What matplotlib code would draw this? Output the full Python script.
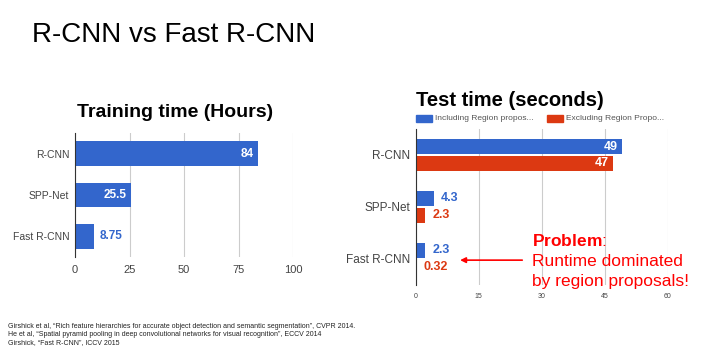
import matplotlib
matplotlib.use('Agg')
import matplotlib.pyplot as plt
import numpy as np
from matplotlib.patches import Rectangle

plt.rcParams['font.family'] = ['Liberation Sans', 'DejaVu Sans']
plt.rcParams['mathtext.fontset'] = 'custom'
plt.rcParams['mathtext.rm'] = 'Liberation Sans'
plt.rcParams['mathtext.bf'] = 'Liberation Sans:bold'

# Data
train_models = ['R-CNN', 'SPP-Net', 'Fast R-CNN']
train_hours = [84, 25.5, 8.75]
train_labels = ['84', '25.5', '8.75']
train_ticks = [0, 25, 50, 75, 100]

test_models = ['R-CNN', 'SPP-Net', 'Fast R-CNN']
test_incl = [49, 4.3, 2.3]
test_excl = [47, 2.3, 0.32]
test_incl_labels = ['49', '4.3', '2.3']
test_excl_labels = ['47', '2.3', '0.32']
test_ticks = [0, 15, 30, 45, 60]
series_names = ['Including Region propos...', 'Excluding Region Propo...']

references = [
    'Girshick et al, \u201cRich feature hierarchies for accurate object detection and semantic segmentation\u201d, CVPR 2014.',
    'He et al, \u201cSpatial pyramid pooling in deep convolutional networks for visual recognition\u201d, ECCV 2014',
    'Girshick, \u201cFast R-CNN\u201d, ICCV 2015',
]

BLUE = '#3366cc'
RED = '#dc3912'
GRID = '#cccccc'
TXT = '#444444'

fig = plt.figure(figsize=(7.08, 3.58), dpi=100)
W, H = 708, 358


def px_axes(x0, y0, x1, y1):
    return fig.add_axes([x0 / W, 1 - y1 / H, (x1 - x0) / W, (y1 - y0) / H])


def style(ax, ticks, tick_size, cat_size):
    ax.set_xticks(ticks)
    ax.grid(axis='x', color=GRID, lw=0.8)
    ax.set_axisbelow(True)
    for s in ['top', 'right', 'bottom']:
        ax.spines[s].set_visible(False)
    ax.spines['left'].set_color('#333333')
    ax.spines['left'].set_linewidth(0.8)
    ax.tick_params(axis='both', length=0, colors=TXT)
    ax.tick_params(axis='x', labelsize=tick_size, pad=6)
    ax.tick_params(axis='y', labelsize=cat_size, pad=4)


# --- Training time
ax1 = px_axes(75, 133, 293, 257)
y1 = np.arange(len(train_models))
ax1.barh(y1, train_hours, height=0.6, color=BLUE, zorder=2)
ax1.set_xlim(0, 100)
ax1.set_ylim(len(train_models) - 0.5, -0.5)
ax1.set_yticks(y1)
ax1.set_yticklabels(train_models)
style(ax1, train_ticks, 8, 7.5)
for yi, v, lab in zip(y1, train_hours, train_labels):
    if v > 20:
        ax1.annotate(lab, (v, yi), xytext=(-3, 0), textcoords='offset points',
                     ha='right', va='center', color='white', fontsize=8.5, fontweight='bold')
    else:
        ax1.annotate(lab, (v, yi), xytext=(4, 0), textcoords='offset points',
                     ha='left', va='center', color=BLUE, fontsize=8.5, fontweight='bold')
fig.text(175 / W, 1 - 113 / H, 'Training time (Hours)', ha='center', va='center',
         fontsize=14, fontweight='bold')

# --- Test time
ax2 = px_axes(415.7, 129, 668, 284.5)
y2 = np.arange(len(test_models))
bh = 0.29
off = bh / 2 + 0.015
ax2.barh(y2 - off, test_incl, height=bh, color=BLUE, zorder=2)
ax2.barh(y2 + off, test_excl, height=bh, color=RED, zorder=2)
ax2.set_xlim(0, 60)
ax2.set_ylim(len(test_models) - 0.5, -0.5)
ax2.set_yticks(y2)
ax2.set_yticklabels(test_models)
style(ax2, test_ticks, 5, 8.5)
for vals, labs, col, d in [(test_incl, test_incl_labels, BLUE, -off),
                           (test_excl, test_excl_labels, RED, off)]:
    for yi, v, lab in zip(y2, vals, labs):
        if v > 20:
            ax2.annotate(lab, (v, yi + d), xytext=(-3, 0), textcoords='offset points',
                         ha='right', va='center', color='white', fontsize=9, fontweight='bold')
        else:
            ax2.annotate(lab, (v, yi + d), xytext=(5, 0), textcoords='offset points',
                         ha='left', va='center', color=col, fontsize=9, fontweight='bold')
fig.text(416 / W, 1 - 100 / H, 'Test time (seconds)', ha='left', va='center',
         fontsize=14.5, fontweight='bold')

# legend
for (x0, name, col) in [(415.7, series_names[0], BLUE), (546.7, series_names[1], RED)]:
    fig.patches.append(Rectangle((x0 / W, 1 - 121.7 / H), 16 / W, 6.7 / H,
                                 transform=fig.transFigure, color=col))
    fig.text((x0 + 19.5) / W, 1 - 118.5 / H, name, ha='left', va='center',
             fontsize=6, color='#555555')

# annotation
ax2.annotate('', xy=(9.9, 2.03), xytext=(26, 2.03),
             arrowprops=dict(arrowstyle='-|>', color='red', lw=1.2, mutation_scale=8),
             annotation_clip=False)
fig.text(531.7 / W, 1 - 241.5 / H, r'$\mathbf{Problem}$:', ha='left', va='center',
         fontsize=12.5, color='red')
fig.text(531.7 / W, 1 - 261.5 / H, 'Runtime dominated', ha='left', va='center',
         fontsize=12.5, color='red')
fig.text(531.7 / W, 1 - 281.5 / H, 'by region proposals!', ha='left', va='center',
         fontsize=12.5, color='red')

# main title
fig.text(32 / W, 1 - 35 / H, 'R-CNN vs Fast R-CNN', ha='left', va='center', fontsize=20)

# references
for i, r in enumerate(references):
    fig.text(8 / W, 1 - (326 + 8.5 * i) / H, r, ha='left', va='center', fontsize=5,
             color='#222222')

fig.savefig('out.png', dpi=100)
